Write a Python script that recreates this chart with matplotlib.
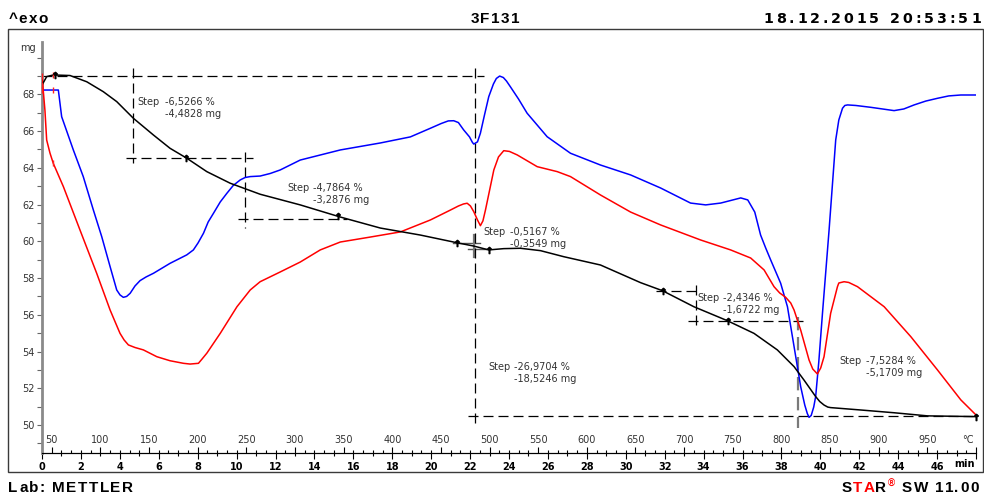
import numpy as np
import matplotlib
matplotlib.use("Agg")
import matplotlib.pyplot as plt
from matplotlib.patches import Rectangle
from matplotlib.ticker import FixedLocator, FuncFormatter

# ---------------------------------------------------------------- data
# TGA mass signal (time in min, mass in mg)
tga_time = [0.00, 0.24, 0.58, 1.44, 2.30, 3.15, 3.84, 4.70, 5.73, 6.58,
            7.44, 8.47, 9.67, 11.21, 13.27, 15.33, 17.39, 19.44, 21.33, 22.19,
            22.96, 23.73, 24.59, 25.62, 26.82, 28.70, 30.76, 31.89, 33.50, 35.22,
            36.59, 37.79, 38.65, 39.16, 39.76, 39.97, 40.19, 40.38, 40.53, 42.08,
            43.79, 45.51, 48.00]
tga_mass = [68.50, 68.96, 69.05, 69.02, 68.68, 68.14, 67.60, 66.69, 65.78, 65.06,
            64.52, 63.79, 63.16, 62.56, 61.98, 61.32, 60.72, 60.34, 59.92, 59.74,
            59.53, 59.60, 59.62, 59.49, 59.16, 58.71, 57.75, 57.31, 56.44, 55.68,
            54.99, 54.09, 53.18, 52.45, 51.55, 51.28, 51.09, 50.98, 50.95, 50.82,
            50.67, 50.50, 50.46]

# blue heat-flow signal, plotted on the mg scale
blue_time = [0.00, 0.84, 1.01, 1.61, 2.12, 2.64, 3.07, 3.50, 3.84, 4.01,
             4.18, 4.35, 4.53, 4.78, 5.04, 5.35, 5.73, 6.58, 7.44, 7.78,
             8.02, 8.30, 8.54, 8.81, 9.16, 9.50, 9.83, 10.19, 10.44, 10.70,
             11.21, 11.73, 12.24, 13.27, 15.33, 17.39, 18.93, 19.96, 20.52, 20.88,
             21.16, 21.40, 21.67, 21.97, 22.12, 22.19, 22.38, 22.53, 22.74, 22.96,
             23.20, 23.35, 23.52, 23.71, 23.87, 24.07, 24.49, 24.93, 25.96, 27.16,
             28.70, 30.25, 31.79, 33.33, 34.11, 34.88, 35.91, 36.27, 36.63, 36.93,
             37.19, 37.45, 37.96, 38.31, 38.65, 38.99, 39.20, 39.33, 39.42, 39.53,
             39.66, 39.76, 39.92, 40.11, 40.45, 40.79, 40.95, 41.14, 41.26, 41.40,
             41.82, 42.59, 43.79, 44.29, 44.82, 45.42, 46.02, 46.60, 47.22, 48.00]
blue_val = [68.23, 68.23, 66.78, 64.97, 63.52, 61.70, 60.25, 58.62, 57.35, 57.08,
            56.95, 57.00, 57.17, 57.57, 57.86, 58.06, 58.26, 58.80, 59.26, 59.53,
            59.91, 60.44, 61.05, 61.52, 62.14, 62.61, 63.04, 63.34, 63.47, 63.52,
            63.55, 63.69, 63.88, 64.42, 64.97, 65.35, 65.68, 66.15, 66.41, 66.55,
            66.56, 66.46, 66.06, 65.68, 65.38, 65.29, 65.41, 65.88, 66.87, 67.87,
            68.56, 68.86, 68.99, 68.91, 68.72, 68.41, 67.74, 66.97, 65.69, 64.79,
            64.15, 63.61, 62.90, 62.08, 61.98, 62.08, 62.36, 62.25, 61.59, 60.34,
            59.64, 58.98, 57.72, 56.44, 54.27, 52.09, 51.09, 50.63, 50.42, 50.52,
            50.98, 51.55, 53.43, 56.08, 60.62, 65.51, 66.60, 67.24, 67.39, 67.42,
            67.39, 67.29, 67.11, 67.20, 67.42, 67.63, 67.78, 67.91, 67.96, 67.96]

# red heat-flow signal, plotted on the mg scale
red_time = [0.00, 0.15, 0.24, 0.41, 0.58, 1.10, 1.95, 2.81, 3.50, 3.76,
            4.01, 4.22, 4.44, 4.78, 5.21, 5.90, 6.58, 7.27, 7.61, 8.04,
            8.23, 8.47, 9.16, 10.02, 10.70, 11.21, 12.24, 13.27, 14.30, 15.33,
            16.87, 18.42, 19.96, 20.99, 21.40, 21.66, 21.85, 22.02, 22.19, 22.38,
            22.53, 22.66, 22.79, 23.22, 23.46, 23.73, 24.02, 24.42, 25.45, 26.48,
            27.16, 28.70, 30.25, 31.79, 33.85, 35.39, 36.42, 37.11, 37.62, 37.91,
            38.22, 38.48, 38.65, 38.99, 39.42, 39.61, 39.85, 40.02, 40.19, 40.53,
            40.88, 40.95, 41.22, 41.46, 41.91, 43.28, 44.65, 46.02, 47.22, 48.00]
red_val = [69.00, 67.14, 65.51, 64.80, 64.24, 62.97, 60.62, 58.26, 56.26, 55.61,
           54.99, 54.63, 54.36, 54.22, 54.09, 53.72, 53.50, 53.36, 53.32, 53.36,
           53.60, 53.91, 54.99, 56.44, 57.35, 57.80, 58.33, 58.87, 59.53, 59.96,
           60.23, 60.51, 61.16, 61.70, 61.92, 62.03, 62.07, 61.92, 61.61, 61.16,
           60.85, 61.11, 61.70, 63.88, 64.59, 64.93, 64.89, 64.70, 64.06, 63.79,
           63.52, 62.52, 61.59, 60.89, 60.07, 59.53, 59.09, 58.44, 57.53, 57.19,
           56.95, 56.64, 56.26, 55.17, 53.54, 53.05, 52.78, 53.11, 53.72, 56.08,
           57.53, 57.73, 57.80, 57.76, 57.53, 56.44, 54.81, 53.00, 51.37, 50.55]

# step evaluations
step_pct = [-6.5266, -4.7864, -0.5167, -26.9704, -2.4346, -7.5284]
step_mg = [-4.4828, -3.2876, -0.3549, -18.5246, -1.6722, -5.1709]
start_level = 69.0        # mg, upper baseline of the evaluation
small_step_level = 59.92  # mg, upper baseline of the small step at 22 min

# evaluation limits on the TGA curve (min)
limit_times = [0.67, 7.41, 15.23, 21.33, 22.96, 31.89, 35.24, 48.0]
segment_times = [0.0, 0.58]

# axis tick labels
time_ticks = list(range(0, 49, 2))
temp_ticks = list(range(50, 1001, 50))
mass_ticks = list(range(50, 69, 2))

header_left = "^exo"
header_mid = "3F131"
header_right = "18.12.2015 20:53:51"
footer_left = "Lab: METTLER"

# ---------------------------------------------------------------- figure
W, H = 984, 495
fig = plt.figure(figsize=(W / 100, H / 100), dpi=100)
fig.patch.set_facecolor("white")


def fx(px):
    return px / W


def fy(py):
    return 1 - py / H


SMALL = ["Liberation Sans Narrow", "DejaVu Sans"]
BIG = ["Liberation Sans", "DejaVu Sans"]
GREY_TXT = "#333333"

ax = fig.add_axes([fx(42), fy(453), (976 - 42) / W, (453 - 41.7) / H])
ax.set_xlim(0, 48)
ax.set_ylim(48.48, 70.86)
ax.patch.set_alpha(0)

LINE = dict(lw=1.1, solid_joinstyle="round", solid_capstyle="round")
ax.plot(blue_time, blue_val, color="#0000ff", zorder=3, **LINE)
ax.plot(red_time, red_val, color="#ff0000", zorder=3, **LINE)
ax.plot(tga_time, tga_mass, color="black", zorder=4, **LINE)

# segment markers (red "I") on each curve
for tt in segment_times:
    for xs, ys in ((tga_time, tga_mass), (blue_time, blue_val), (red_time, red_val)):
        ax.plot([tt], [np.interp(tt, xs, ys)], marker="$\\mathrm{I}$", ms=5,
                color="#ff2020", zorder=5, clip_on=False)

# evaluation limit markers on the TGA curve
for tt in limit_times:
    ax.plot([tt], [np.interp(tt, tga_time, tga_mass)], marker="$\\uparrow$",
            ms=4.5, color="black", zorder=6, clip_on=False)

# ---------------------------------------------------------------- steps
DASH = dict(color="black", lw=0.9, ls=(0, (8, 4)), zorder=2)
GDASH = dict(color="#7a7a7a", lw=1.6, ls=(0, (6, 3)), zorder=2)

lvl1 = start_level + step_mg[0]
lvl2 = lvl1 + step_mg[1]
lvl3 = small_step_level + step_mg[2]
lvl_end = start_level + step_mg[3]
lvl5_low = lvl_end - step_mg[5]
lvl5_top = lvl5_low - step_mg[4]

# step 1 and the overall step share the upper baseline
ax.plot([0, 22.69], [start_level, start_level], **DASH)
ax.plot([4.68, 4.68], [start_level + 0.42, lvl1 - 0.26], **DASH)
ax.plot([4.32, 10.85], [lvl1, lvl1], **DASH)
# step 2
ax.plot([10.44, 10.44], [lvl1 + 0.34, lvl2 - 0.48], **DASH)
ax.plot([10.08, 15.67], [lvl2, lvl2], **DASH)
# small step
ax.plot([21.1, 22.5], [small_step_level, small_step_level], color="#555555", lw=1.0, zorder=2)
ax.plot([21.9, 22.8], [lvl3, lvl3], color="#555555", lw=1.0, zorder=2)
ax.plot([22.2, 22.2], [small_step_level + 0.42, lvl3 - 0.42], color="#777777", lw=1.6, zorder=2)
# overall step
ax.plot([22.27, 22.27], [start_level + 0.42, lvl_end - 0.36], **DASH)
ax.plot([21.91, 48.0], [lvl_end, lvl_end], **DASH)
# step 5
ax.plot([31.53, 33.85], [lvl5_top, lvl5_top], **DASH)
ax.plot([33.59, 33.59], [lvl5_top + 0.3, lvl5_low - 0.47], **DASH)
ax.plot([33.18, 39.35], [lvl5_low, lvl5_low], **DASH)
# step 6
ax.plot([38.85, 38.85], [lvl5_low + 0.26, lvl_end - 0.63], **GDASH)


def dec(v):
    return f"{v:.4f}".replace(".", ",")


text_pos = [(4.89, 67.58, 6.33), (12.60, 62.90, 13.94), (22.69, 60.51, 24.07),
            (22.94, 53.16, 24.28), (33.69, 56.92, 34.98), (41.00, 53.49, 42.34)]
for (tx, ty, vx), pct, mg in zip(text_pos, step_pct, step_mg):
    kw = dict(fontsize=7, family=SMALL, color=GREY_TXT, va="center", ha="left", zorder=7)
    ax.text(tx, ty, "Step", **kw)
    ax.text(vx, ty, f"{dec(pct)} %", **kw)
    ax.text(vx, ty - 0.65, f"{dec(mg)} mg", **kw)

# ---------------------------------------------------------------- axes
for side in ("top", "right"):
    ax.spines[side].set_visible(False)
ax.spines["left"].set_color("#8a8a8a")
ax.spines["left"].set_linewidth(2.0)
ax.spines["bottom"].set_color("black")
ax.spines["bottom"].set_linewidth(0.8)

ax.yaxis.set_major_locator(FixedLocator(mass_ticks))
ax.yaxis.set_minor_locator(FixedLocator([v for v in range(49, 71) if v % 2 or v == 70]))
ax.tick_params(axis="y", which="both", direction="out", length=3.5, width=0.8,
               color="#666666", labelsize=7, labelcolor=GREY_TXT, pad=1.5,
               labelfontfamily=SMALL[0])

ax.xaxis.set_major_locator(FixedLocator(time_ticks))
ax.xaxis.set_minor_locator(FixedLocator(list(range(1, 48, 2))))
ax.xaxis.set_major_formatter(FuncFormatter(lambda v, p: "" if v >= 48 else f"{v:.0f}"))
ax.tick_params(axis="x", which="major", direction="out", length=4, width=0.8,
               labelsize=7, pad=2.5, labelfontfamily=SMALL[0])
ax.tick_params(axis="x", which="minor", direction="out", length=2.5, width=0.8)
for lab in ax.get_xticklabels():
    lab.set_fontweight("bold")

sec = ax.secondary_xaxis(0.0, functions=(lambda t: 40 + 20 * np.asarray(t),
                                         lambda T: (np.asarray(T) - 40) / 20))
sec.set_alignment("top")
sec.xaxis.set_major_locator(FixedLocator(temp_ticks))
sec.xaxis.set_minor_locator(FixedLocator(list(range(40, 1001, 10))))
sec.xaxis.set_major_formatter(FuncFormatter(lambda v, p: "" if v >= 1000 else f"{v:.0f}"))
sec.tick_params(which="major", direction="out", length=4, width=0.8, labelsize=7,
                labelcolor=GREY_TXT, pad=2, labelfontfamily=SMALL[0])
sec.tick_params(which="minor", direction="out", length=2.5, width=0.8)
sec.spines["top"].set_linewidth(0.8)

ax.annotate("min", xy=(1, 0), xycoords="axes fraction", xytext=(-1, -8.2),
            textcoords="offset points", ha="right", va="center", fontsize=7,
            family=SMALL, fontweight="bold")
ax.annotate("°C", xy=(1, 0), xycoords="axes fraction", xytext=(-2, 9.5),
            textcoords="offset points", ha="right", va="center", fontsize=7,
            family=SMALL, color=GREY_TXT)
fig.text(fx(28), fy(48), "mg", ha="center", va="center", fontsize=7,
         family=SMALL, color=GREY_TXT)

# outer frame
fig.add_artist(Rectangle((fx(8.3), fy(471.7)), (983 - 8.3) / W, (471.7 - 29.3) / H,
                         transform=fig.transFigure, fill=False, ec="#3a3a3a", lw=1.0))

# ---------------------------------------------------------------- header / footer
renderer = fig.canvas.get_renderer()


def _advance(s, **kw):
    probe = fig.text(0, 0, "|" + s + "|", **kw)
    w = probe.get_window_extent(renderer).width
    probe.remove()
    return w


def tracked_text(x, y, s, track=0.0, ha="left", colors=None, width=None, **kw):
    base = _advance("", **kw)
    adv = [_advance(s[:i], **kw) - base for i in range(len(s) + 1)]
    if width is not None:
        track = (width - adv[-1]) / (len(s) - 1)
    total = adv[-1] + track * (len(s) - 1)
    left = {"left": x, "right": x - total, "center": x - total / 2}[ha]
    for i, ch in enumerate(s):
        if ch.isspace():
            continue
        fig.text(fx(left + adv[i] + track * i), fy(y), ch, ha="left", va="center",
                 color=colors[i] if colors else "black", **kw)
    return left, left + total


HEAD = dict(fontsize=11, family=BIG, fontweight="bold")
WIDE = dict(fontsize=10.3, family=["DejaVu Sans"], fontweight="bold")
tracked_text(8.3, 19, header_left, track=1.5, **HEAD)
tracked_text(495, 19, header_mid, track=1.5, ha="center", **HEAD)
tracked_text(981, 19, header_right, width=218, ha="right", **WIDE)
tracked_text(8.3, 487.5, footer_left, track=1.5, **HEAD)

sw_left, _ = tracked_text(978.5, 488, "SW 11.00", track=1.5, ha="right", **HEAD)
fig.text(fx(sw_left - 10), fy(483.5), "®", ha="center", va="center", fontsize=7,
         family=BIG, fontweight="bold", color="#ff0000")
tracked_text(sw_left - 16, 488, "STAR", track=1.5, ha="right",
             colors=["black", "#ff0000", "#ff0000", "black"], **HEAD)

fig.savefig("out.png", dpi=100)
